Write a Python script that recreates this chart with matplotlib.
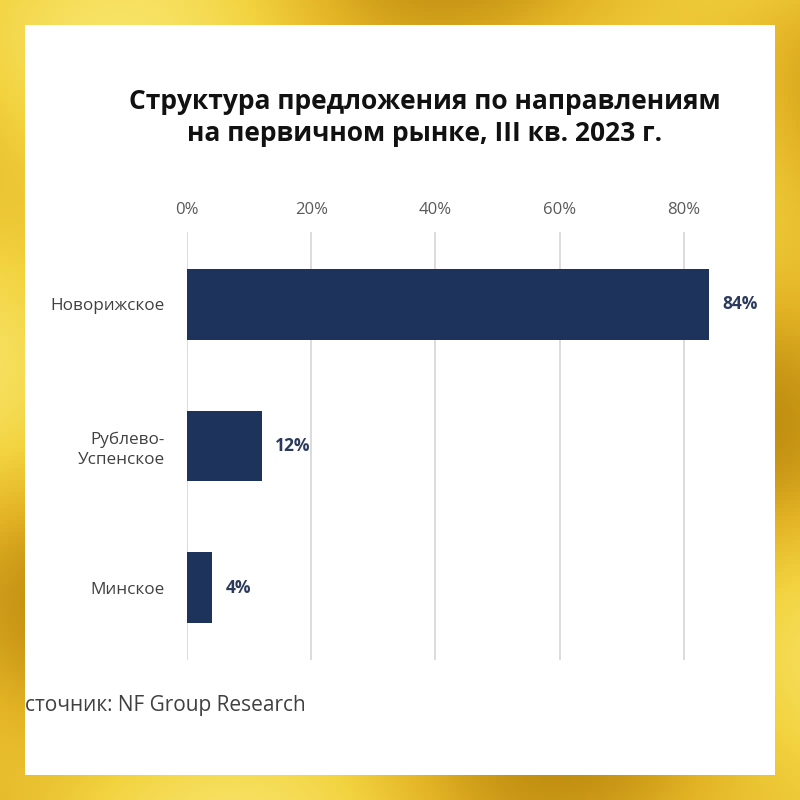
import matplotlib.pyplot as plt
import numpy as np

# data
categories = ['Новорижское', 'Рублево-\nУспенское', 'Минское']
shares = [84, 12, 4]
value_labels = ['84%', '12%', '4%']
x_ticks = [0, 20, 40, 60, 80]
x_tick_labels = ['0%', '20%', '40%', '60%', '80%']

title = 'Структура предложения по направлениям\nна первичном рынке, III кв. 2023 г.'
source = 'сточник: NF Group Research'

plt.rcParams['font.family'] = ['Open Sans', 'DejaVu Sans']

fig = plt.figure(figsize=(8, 8), dpi=100)

# gold frame: simple deterministic gradient behind a white panel
bg = fig.add_axes([0, 0, 1, 1])
yy, xx = np.mgrid[0:1:200j, 0:1:200j]
shade = 0.5 + 0.25 * np.sin(9 * xx + 5 * yy) + 0.2 * np.cos(13 * yy - 4 * xx)
gold = plt.matplotlib.colors.LinearSegmentedColormap.from_list(
    'gold', ['#c08d10', '#e3b325', '#f2d23e', '#f8e366'])
bg.imshow(shade, cmap=gold, extent=[0, 1, 0, 1], aspect='auto', zorder=0)
bg.add_patch(plt.Rectangle((25 / 800, 25 / 800), 750 / 800, 750 / 800,
                           facecolor='white', edgecolor='none', zorder=1))
bg.set_xlim(0, 1)
bg.set_ylim(0, 1)
bg.axis('off')

fig.text(0.531, 0.853, title, ha='center', va='center', fontsize=19,
         fontweight='bold', color='#111111', linespacing=1.25)
fig.text(25 / 800, 1 - 706 / 800, source, ha='left', va='center',
         fontsize=15, color='#404040')

ax = fig.add_axes([187 / 800, 1 - 660 / 800, 559 / 800, 428 / 800])
ax.set_facecolor('none')
y = np.arange(len(categories))
ax.barh(y, shares, height=0.5, color='#1e335c', zorder=3)
for yi, v, lab in zip(y, shares, value_labels):
    ax.text(v + 2.2, yi, lab, ha='left', va='center', fontsize=12.5,
            fontweight='bold', color='#2b3a5c')

ax.set_xlim(0, 90)
ax.set_ylim(2.51, -0.51)
ax.set_xticks(x_ticks)
ax.set_xticklabels(x_tick_labels, fontsize=12, color='#595959')
ax.xaxis.tick_top()
ax.tick_params(axis='x', length=0, pad=10)
ax.set_yticks(y)
ax.set_yticklabels(categories, fontsize=12.3, color='#404040', linespacing=1.3)
ax.tick_params(axis='y', length=0, pad=16)
ax.grid(axis='x', color='#d9d9d9', linewidth=1.3, zorder=0)
for s in ax.spines.values():
    s.set_visible(False)

fig.savefig('out.png', dpi=100)
